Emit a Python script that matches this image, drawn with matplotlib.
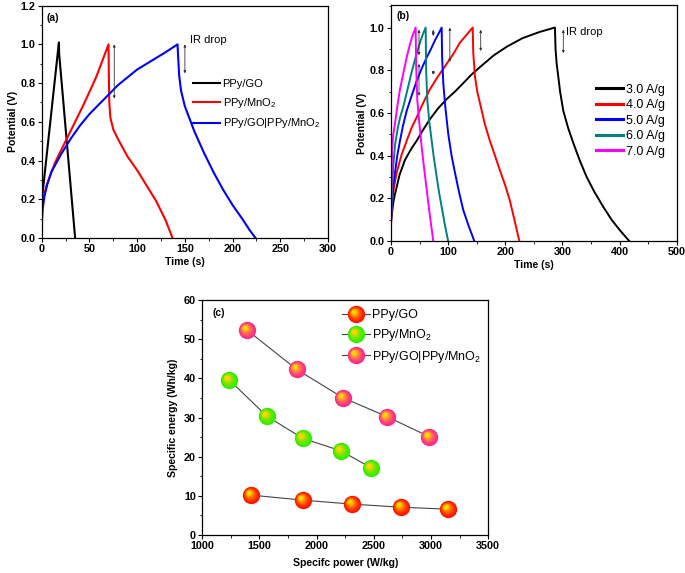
import numpy as np
import matplotlib
matplotlib.use("Agg")
import matplotlib.pyplot as plt
from matplotlib.path import Path
from matplotlib.markers import MarkerStyle
from matplotlib.legend_handler import HandlerTuple
from matplotlib.colors import to_rgb
from matplotlib.ticker import MultipleLocator, FormatStrFormatter

plt.rcParams['font.family'] = ['Liberation Sans', 'DejaVu Sans']
plt.rcParams['mathtext.default'] = 'regular'

# ---- (a) GCD curves at same current density ----
a_labels = ['PPy/GO', 'PPy/MnO$_2$', 'PPy/GO|PPy/MnO$_2$']
a_colors = ['black', '#ff0000', '#0000ff']

a_go_t = [0, 18, 18.3, 35]
a_go_v = [0.19, 1.01, 0.95, 0.0]

a_mn_t = [0, 1, 5, 14, 23, 33, 44, 57, 70, 70.3, 70.8, 72, 75, 80, 90, 100, 110, 120, 130, 137]
a_mn_v = [0.13, 0.19, 0.27, 0.39, 0.48, 0.58, 0.69, 0.83, 1.0, 0.85, 0.70, 0.62, 0.56, 0.51,
          0.42, 0.35, 0.27, 0.19, 0.09, 0.0]

a_hy_t = [0, 1, 3, 6, 10, 20, 30, 40, 50, 60, 70, 80, 90, 100, 110, 120, 130, 142.3,
          143, 144, 146, 150, 160, 170, 180, 190, 200, 210, 218, 224]
a_hy_v = [0.06, 0.15, 0.22, 0.28, 0.34, 0.43, 0.51, 0.58, 0.64, 0.69, 0.74, 0.79, 0.83, 0.87,
          0.90, 0.93, 0.96, 1.0, 0.93, 0.84, 0.76, 0.68, 0.55, 0.44, 0.34, 0.25, 0.17, 0.10,
          0.04, 0.0]

# ---- (b) hybrid device at various current densities ----
b_labels = ['3.0 A/g', '4.0 A/g', '5.0 A/g', '6.0 A/g', '7.0 A/g']
b_colors = ['black', '#ff0000', '#0000ff', '#008080', '#ff00ff']

b3_t = [0, 1.2, 4, 7, 15, 24.5, 35, 45, 56, 68, 82, 97.5, 112, 126.6, 141, 155.8, 180, 202.5,
        230, 260.8, 287, 288, 290, 292.8, 296, 301.6, 310, 319, 330, 342.5, 356, 371.6, 386,
        400.8, 417]
b3_v = [0.10, 0.12, 0.18, 0.22, 0.31, 0.38, 0.43, 0.47, 0.52, 0.57, 0.62, 0.665, 0.70, 0.74,
        0.78, 0.815, 0.87, 0.91, 0.95, 0.98, 1.0, 0.90, 0.83, 0.77, 0.70, 0.61, 0.53, 0.46,
        0.38, 0.30, 0.23, 0.16, 0.10, 0.05, 0.0]
b4_t = [0, 2, 5, 10, 18, 27.5, 36, 45, 56, 68, 82, 97.5, 110, 120.8, 132, 143, 144, 147, 151,
        155.8, 164, 173, 182, 190.8, 200, 208, 216, 224.6]
b4_v = [0.07, 0.18, 0.25, 0.32, 0.40, 0.47, 0.53, 0.58, 0.645, 0.71, 0.77, 0.83, 0.88, 0.93,
        0.965, 1.0, 0.88, 0.77, 0.70, 0.645, 0.55, 0.47, 0.40, 0.33, 0.26, 0.19, 0.10, 0.0]
b5_t = [0, 2, 4.5, 7, 11, 15.75, 21, 27.5, 36, 45, 54, 62.5, 70, 77, 83, 88.7, 89.5, 91.5, 95,
        100.3, 106, 112, 119, 126.5, 136, 145.8]
b5_v = [0.08, 0.20, 0.27, 0.32, 0.40, 0.47, 0.54, 0.61, 0.68, 0.75, 0.81, 0.86, 0.90, 0.94,
        0.97, 1.0, 0.86, 0.74, 0.63, 0.50, 0.40, 0.32, 0.23, 0.145, 0.07, 0.0]
b6_t = [0, 1.5, 4, 7, 12, 16, 21.6, 28, 36, 43, 50.75, 56, 60.7, 61.5, 63.6, 67, 71.2, 75, 80,
        84, 88.7, 94, 100]
b6_v = [0.09, 0.22, 0.35, 0.45, 0.53, 0.58, 0.63, 0.70, 0.79, 0.86, 0.93, 0.97, 1.0, 0.80,
        0.66, 0.56, 0.47, 0.39, 0.30, 0.23, 0.16, 0.08, 0.0]
b7_t = [0, 0.8, 2, 4, 7, 11, 15.75, 21, 27.5, 32, 37.3, 43.2, 44, 46, 49, 53.7, 58, 62.5, 68, 74]
b7_v = [0.09, 0.28, 0.43, 0.50, 0.55, 0.63, 0.71, 0.78, 0.86, 0.91, 0.96, 1.0, 0.82, 0.66,
        0.57, 0.44, 0.34, 0.24, 0.12, 0.0]

# ---- (c) Ragone plot ----
c_labels = ['PPy/GO', 'PPy/MnO$_2$', 'PPy/GO|PPy/MnO$_2$']
c_go_p = [1425, 1882, 2305, 2734, 3145]
c_go_e = [10.2, 8.9, 7.9, 7.1, 6.6]
c_mn_p = [1233, 1562, 1877, 2212, 2474]
c_mn_e = [39.7, 30.4, 24.7, 21.5, 17.2]
c_hy_p = [1393, 1825, 2227, 2617, 2984]
c_hy_e = [52.3, 42.3, 35.1, 30.2, 25.1]
c_colors = ['#ff1500', '#33ee00', '#ff2a8a']

fig = plt.figure(figsize=(6.85, 5.73), dpi=100)
ax_a = fig.add_axes([0.0609, 0.5846, 0.418, 0.4056])
ax_b = fig.add_axes([0.5708, 0.5794, 0.417, 0.412])
ax_c = fig.add_axes([0.2953, 0.0663, 0.4175, 0.410])

tick_fs = 7.8
label_fs = 7.6


def style_axes(ax, xmaj, ymaj, yfmt):
    ax.xaxis.set_major_locator(MultipleLocator(xmaj))
    ax.xaxis.set_minor_locator(MultipleLocator(xmaj / 2))
    ax.yaxis.set_major_locator(MultipleLocator(ymaj))
    ax.yaxis.set_minor_locator(MultipleLocator(ymaj / 2))
    ax.yaxis.set_major_formatter(FormatStrFormatter(yfmt))
    ax.tick_params(which='major', direction='out', length=3, width=0.8, labelsize=tick_fs, pad=1.5)
    ax.tick_params(which='minor', direction='out', length=1.8, width=0.6)
    for lab in ax.get_xticklabels() + ax.get_yticklabels():
        lab.set_fontweight('bold')
    for s in ax.spines.values():
        s.set_linewidth(0.9)


def ir_arrow(ax, x, y0, y1):
    ax.annotate('', xy=(x, y1), xytext=(x, y0),
                arrowprops=dict(arrowstyle='<|-|>', lw=0.6, color='#333333',
                                mutation_scale=3.5, shrinkA=0, shrinkB=0))


# panel (a)
for t, v, c, lab in zip([a_go_t, a_mn_t, a_hy_t], [a_go_v, a_mn_v, a_hy_v], a_colors, a_labels):
    ax_a.plot(t, v, color=c, lw=1.5, label=lab)
ax_a.set_xlim(0, 300)
ax_a.set_ylim(0, 1.2)
style_axes(ax_a, 50, 0.2, '%.1f')
ax_a.set_xlabel('Time (s)', fontsize=label_fs, fontweight='bold', labelpad=2)
ax_a.set_ylabel('Potential (V)', fontsize=label_fs, fontweight='bold', labelpad=2)
ax_a.text(0.015, 0.97, '(a)', transform=ax_a.transAxes, fontsize=7.5, fontweight='bold', va='top')
ir_arrow(ax_a, 76, 1.0, 0.72)
ir_arrow(ax_a, 150, 1.0, 0.85)
ax_a.text(155, 1.02, 'IR drop', fontsize=8, va='center')
ax_a.legend(loc='upper left', bbox_to_anchor=(0.527, 0.684), frameon=False, fontsize=8,
            handlelength=2.45, handletextpad=0.25, labelspacing=0.6, borderpad=0,
            borderaxespad=0)

# panel (b)
for t, v, c, lab in zip([b3_t, b4_t, b5_t, b6_t, b7_t], [b3_v, b4_v, b5_v, b6_v, b7_v],
                        b_colors, b_labels):
    ax_b.plot(t, v, color=c, lw=1.4, label=lab)
ax_b.set_xlim(0, 500)
ax_b.set_ylim(0, 1.106)
style_axes(ax_b, 100, 0.2, '%.1f')
ax_b.set_xlabel('Time (s)', fontsize=label_fs, fontweight='bold', labelpad=2)
ax_b.set_ylabel('Potential (V)', fontsize=label_fs, fontweight='bold', labelpad=2)
ax_b.text(0.02, 0.975, '(b)', transform=ax_b.transAxes, fontsize=7.5, fontweight='bold', va='top')
for x, y0, y1 in [(49, 0.99, 0.87), (49, 0.83, 0.68), (74, 0.99, 0.96), (74, 0.80, 0.78),
                  (103, 1.0, 0.84), (157, 0.99, 0.89), (301.6, 0.99, 0.88)]:
    ir_arrow(ax_b, x, y0, y1)
ax_b.text(306, 0.98, 'IR drop', fontsize=8, va='center')
leg_b = ax_b.legend(loc='upper left', bbox_to_anchor=(0.7175, 0.667), frameon=False, fontsize=9,
                    handlelength=2.2, handletextpad=0.2, labelspacing=0.28, borderpad=0,
                    borderaxespad=0)
for h in leg_b.get_lines():
    h.set_linewidth(2.2)


# panel (c) - shaded ball markers
def ball_markers(n=9):
    marks = []
    for k in range(n):
        f = k / (n - 1)
        r = 1.0 - 0.74 * f
        cx, cy = -0.28 * f, 0.28 * f
        circ = Path.circle(center=(cx, cy), radius=r)
        frame = Path([(-1, -1), (1, 1)], [Path.MOVETO, Path.MOVETO])
        marks.append((f, MarkerStyle(Path.make_compound_path(frame, circ))))
    return marks


def blend(c1, c2, f):
    a, b = np.array(to_rgb(c1)), np.array(to_rgb(c2))
    return tuple(a + (b - a) * f)


marks = ball_markers()
handles = []
for p, e, base, lab in zip([c_go_p, c_mn_p, c_hy_p], [c_go_e, c_mn_e, c_hy_e], c_colors, c_labels):
    line, = ax_c.plot(p, e, color='#444444', lw=0.8, zorder=2)
    hs = [line]
    for f, m in marks:
        col = blend(base, '#ffd500', f ** 1.6)
        h, = ax_c.plot(p, e, ls='none', marker=m, markersize=12.5, markeredgewidth=0,
                       color=col, zorder=3 + f)
        hs.append(h)
    handles.append(tuple(hs))

ax_c.set_xlim(1000, 3500)
ax_c.set_ylim(0, 60)
style_axes(ax_c, 500, 10, '%d')
ax_c.set_xlabel('Specifc power (W/kg)', fontsize=label_fs, fontweight='bold', labelpad=5)
ax_c.set_ylabel('Specific energy (Wh/kg)', fontsize=label_fs, fontweight='bold', labelpad=4)
ax_c.text(0.035, 0.965, '(c)', transform=ax_c.transAxes, fontsize=7.5, fontweight='bold', va='top')
ax_c.legend(handles, c_labels, handler_map={tuple: HandlerTuple(ndivide=1, pad=0)},
            loc='upper left', bbox_to_anchor=(0.487, 0.96), frameon=False, fontsize=9,
            handlelength=2.25, handletextpad=0.2, labelspacing=0.45, borderpad=0,
            borderaxespad=0)

fig.savefig('out.png', dpi=100)
